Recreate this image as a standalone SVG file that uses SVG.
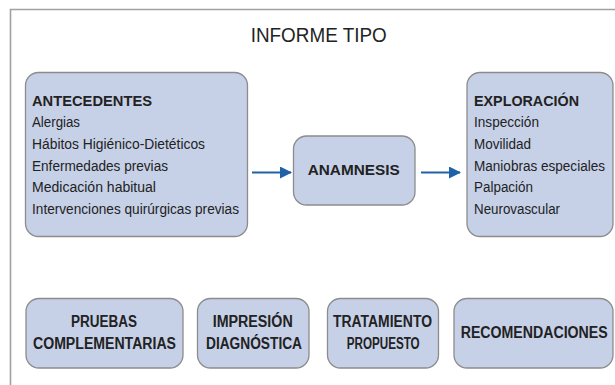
<svg xmlns="http://www.w3.org/2000/svg" width="615" height="385" viewBox="0 0 615 385">
<defs>
<style>
.box{fill:#c6d1e8;stroke:#8c8c8c;stroke-width:1.3}
.t{font-family:"Liberation Sans",Arial,sans-serif;font-size:15.5px;fill:#222}
.b{font-weight:bold}
.c{text-anchor:middle}
.big{font-size:16px}
.title{font-size:20px}
.conn{stroke:#1f62a8;stroke-width:2;fill:none}
</style>
<marker id="ah" markerWidth="12" markerHeight="12" refX="11" refY="6" orient="auto" markerUnits="userSpaceOnUse">
<path d="M0,0 L12,6 L0,12 Z" fill="#1f62a8"/>
</marker>
</defs>
<rect width="615" height="385" fill="#fff"/>
<path d="M10.5,385 V9.5 H615" fill="none" stroke="#a0a0a0" stroke-width="1.6"/>
<text class="t c title" x="318.7" y="42" textLength="136" lengthAdjust="spacingAndGlyphs">INFORME TIPO</text>

<g id="antecedentes">
<rect class="box" x="25.5" y="72.5" width="222" height="164" rx="13"/>
<text class="t b" x="32" y="106" textLength="120" lengthAdjust="spacingAndGlyphs">ANTECEDENTES</text>
<text class="t" x="32" y="127" textLength="48" lengthAdjust="spacingAndGlyphs">Alergias</text>
<text class="t" x="32" y="149" textLength="173" lengthAdjust="spacingAndGlyphs">Hábitos Higiénico-Dietéticos</text>
<text class="t" x="32" y="171" textLength="136" lengthAdjust="spacingAndGlyphs">Enfermedades previas</text>
<text class="t" x="32" y="192" textLength="124" lengthAdjust="spacingAndGlyphs">Medicación habitual</text>
<text class="t" x="32" y="214" textLength="207" lengthAdjust="spacingAndGlyphs">Intervenciones quirúrgicas previas</text>
</g>

<g id="anamnesis">
<rect class="box" x="293.5" y="136" width="121.5" height="69" rx="13"/>
<text class="t b" x="307.7" y="175" textLength="92" lengthAdjust="spacingAndGlyphs">ANAMNESIS</text>
</g>

<g id="exploracion">
<rect class="box" x="467" y="72.5" width="146" height="164" rx="13"/>
<text class="t b" x="474" y="106" textLength="105" lengthAdjust="spacingAndGlyphs">EXPLORACIÓN</text>
<text class="t" x="474" y="127" textLength="65" lengthAdjust="spacingAndGlyphs">Inspección</text>
<text class="t" x="474" y="149" textLength="57" lengthAdjust="spacingAndGlyphs">Movilidad</text>
<text class="t" x="474" y="171" textLength="131" lengthAdjust="spacingAndGlyphs">Maniobras especiales</text>
<text class="t" x="474" y="192" textLength="59" lengthAdjust="spacingAndGlyphs">Palpación</text>
<text class="t" x="474" y="214" textLength="86" lengthAdjust="spacingAndGlyphs">Neurovascular</text>
</g>

<g id="pruebas">
<rect class="box" x="26" y="298.5" width="157" height="69.5" rx="13"/>
<text class="t b big" x="71" y="327" textLength="66" lengthAdjust="spacingAndGlyphs">PRUEBAS</text>
<text class="t b big" x="33" y="349" textLength="143" lengthAdjust="spacingAndGlyphs">COMPLEMENTARIAS</text>
</g>

<g id="impresion">
<rect class="box" x="197.5" y="298.5" width="111.5" height="69.5" rx="13"/>
<text class="t b big" x="212.7" y="327" textLength="80" lengthAdjust="spacingAndGlyphs">IMPRESIÓN</text>
<text class="t b big" x="206" y="349" textLength="96" lengthAdjust="spacingAndGlyphs">DIAGNÓSTICA</text>
</g>

<g id="tratamiento">
<rect class="box" x="327.5" y="298.5" width="111" height="69.5" rx="13"/>
<text class="t b big" x="333" y="327" textLength="99" lengthAdjust="spacingAndGlyphs">TRATAMIENTO</text>
<text class="t b big" x="346.7" y="349" textLength="73" lengthAdjust="spacingAndGlyphs">PROPUESTO</text>
</g>

<g id="recomendaciones">
<rect class="box" x="454" y="298.5" width="159" height="69.5" rx="13"/>
<text class="t b big" x="460.7" y="338" textLength="147" lengthAdjust="spacingAndGlyphs">RECOMENDACIONES</text>
</g>

<g id="connectors">
<line class="conn" x1="252" y1="172.5" x2="291" y2="172.5" marker-end="url(#ah)"/>
<line class="conn" x1="421" y1="172.5" x2="460" y2="172.5" marker-end="url(#ah)"/>
</g>
</svg>
